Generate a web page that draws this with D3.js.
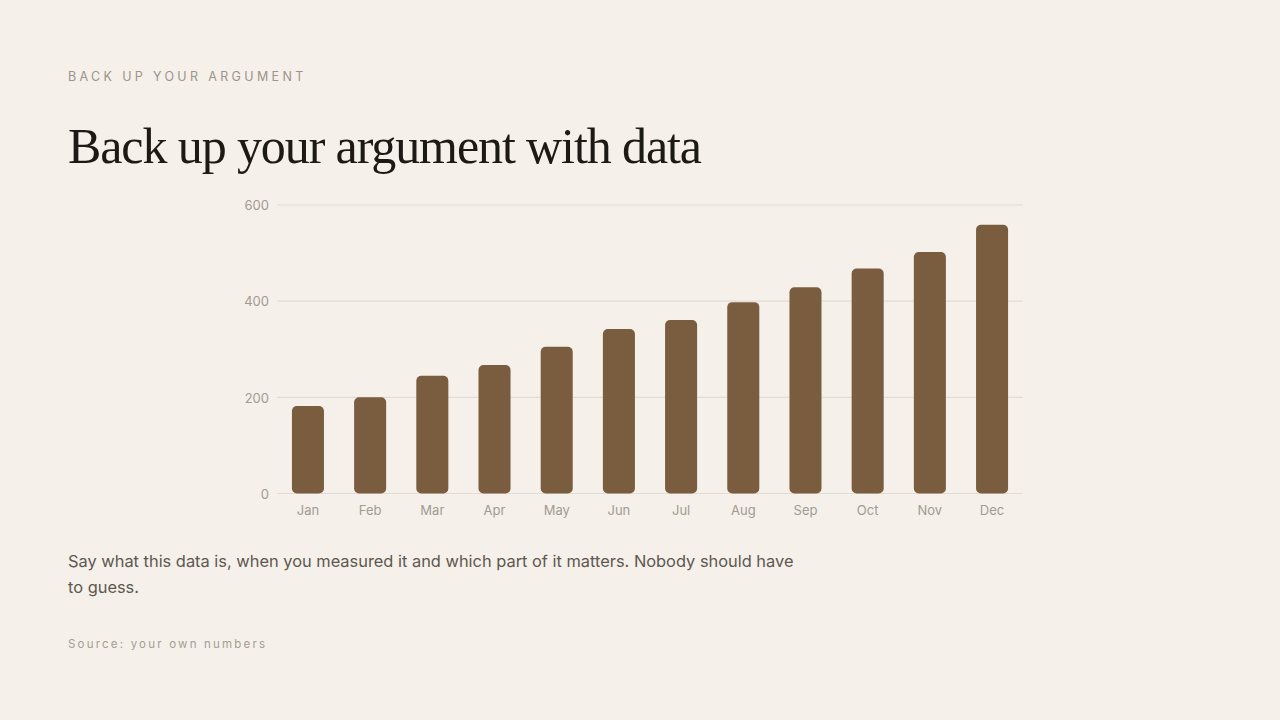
<!DOCTYPE html>
<html>
<head>
<meta charset="utf-8">
<script src="https://cdn.jsdelivr.net/npm/d3@7"></script>
<style>
  html, body { margin: 0; padding: 0; background: #f5f0e9; }
  body { width: 1280px; height: 720px; overflow: hidden; }
</style>
</head>
<body>
<div id="chart"></div>
<script>
// data
const months = ['Jan','Feb','Mar','Apr','May','Jun','Jul','Aug','Sep','Oct','Nov','Dec'];
const values = [182, 200, 245, 267, 305, 342, 361, 398, 429, 468, 502, 559];
const y_ticks = [0, 200, 400, 600];

const eyebrow = 'BACK UP YOUR ARGUMENT';
const title = 'Back up your argument with data';
const body_lines = ['Say what this data is, when you measured it and which part of it matters. Nobody should have', 'to guess.'];
const source = 'Source: your own numbers';

const c_width = 1280;
const c_height = 720;
const bar_color = '#7a5c3e';
const grid_color = '#e2dcd4';
const label_color = '#a29b94';

// plot area
const plot = {left: 277, right: 1023, top: 205, bottom: 493.5};

var svg = d3.select('#chart')
            .append('svg')
            .attr('width', c_width)
            .attr('height', c_height);

svg.append('rect')
   .attr('width', c_width).attr('height', c_height)
   .attr('fill', '#f5f0e9');

// header
svg.append('text')
   .attr('x', 68).attr('y', 81)
   .attr('font-family', 'Inter, sans-serif')
   .attr('font-size', 12.5)
   .attr('letter-spacing', 3.35)
   .attr('fill', '#9c948c')
   .text(eyebrow);

svg.append('text')
   .attr('x', 68).attr('y', 163)
   .attr('font-family', '"Liberation Serif", serif')
   .attr('font-size', 50)
   .attr('letter-spacing', -1.1)
   .attr('fill', '#1d1915')
   .text(title);

var xScale = d3.scaleBand()
        .domain(months)
        .range([plot.left, plot.right])
        .paddingInner(0.485)
        .paddingOuter(0.24);

var yScale = d3.scaleLinear()
        .domain([0, 600])
        .range([plot.bottom, plot.top]);

// gridlines
svg.append('g')
   .selectAll('line')
   .data(y_ticks)
   .enter()
   .append('line')
   .attr('x1', plot.left).attr('x2', plot.right)
   .attr('y1', d => yScale(d)).attr('y2', d => yScale(d))
   .attr('stroke', grid_color)
   .attr('stroke-width', 1.2);

// y labels
var yAxis = svg.append('g')
   .attr('transform', 'translate(' + (plot.left - 8) + ',0.5)')
   .call(d3.axisLeft(yScale).tickValues(y_ticks).tickSize(0).tickPadding(0));
yAxis.select('.domain').remove();
yAxis.selectAll('text')
   .attr('font-family', 'Inter, sans-serif')
   .attr('font-size', 13)
   .attr('fill', label_color);

// bars
svg.append('g')
   .selectAll('rect')
   .data(values)
   .enter()
   .append('rect')
   .attr('x', (d, i) => xScale(months[i]))
   .attr('y', d => yScale(d))
   .attr('width', xScale.bandwidth())
   .attr('height', d => yScale(0) - yScale(d))
   .attr('rx', 5).attr('ry', 5)
   .attr('fill', bar_color);

// x labels
var xAxis = svg.append('g')
   .attr('transform', 'translate(0,' + (plot.bottom + 12) + ')')
   .call(d3.axisBottom(xScale).tickSize(0).tickPadding(0));
xAxis.select('.domain').remove();
xAxis.selectAll('text')
   .attr('font-family', 'Inter, sans-serif')
   .attr('font-size', 13)
   .attr('fill', label_color);

// caption
svg.append('text')
   .attr('font-family', 'Inter, sans-serif')
   .attr('font-size', 16.4)
   .attr('fill', '#5e5750')
   .selectAll('tspan')
   .data(body_lines)
   .enter()
   .append('tspan')
   .attr('x', 68)
   .attr('y', (d, i) => 567 + i * 26)
   .text(d => d);

svg.append('text')
   .attr('x', 68).attr('y', 648)
   .attr('font-family', 'Inter, sans-serif')
   .attr('font-size', 11.5)
   .attr('letter-spacing', 2.2)
   .attr('fill', '#a59d95')
   .text(source);
</script>
</body>
</html>
